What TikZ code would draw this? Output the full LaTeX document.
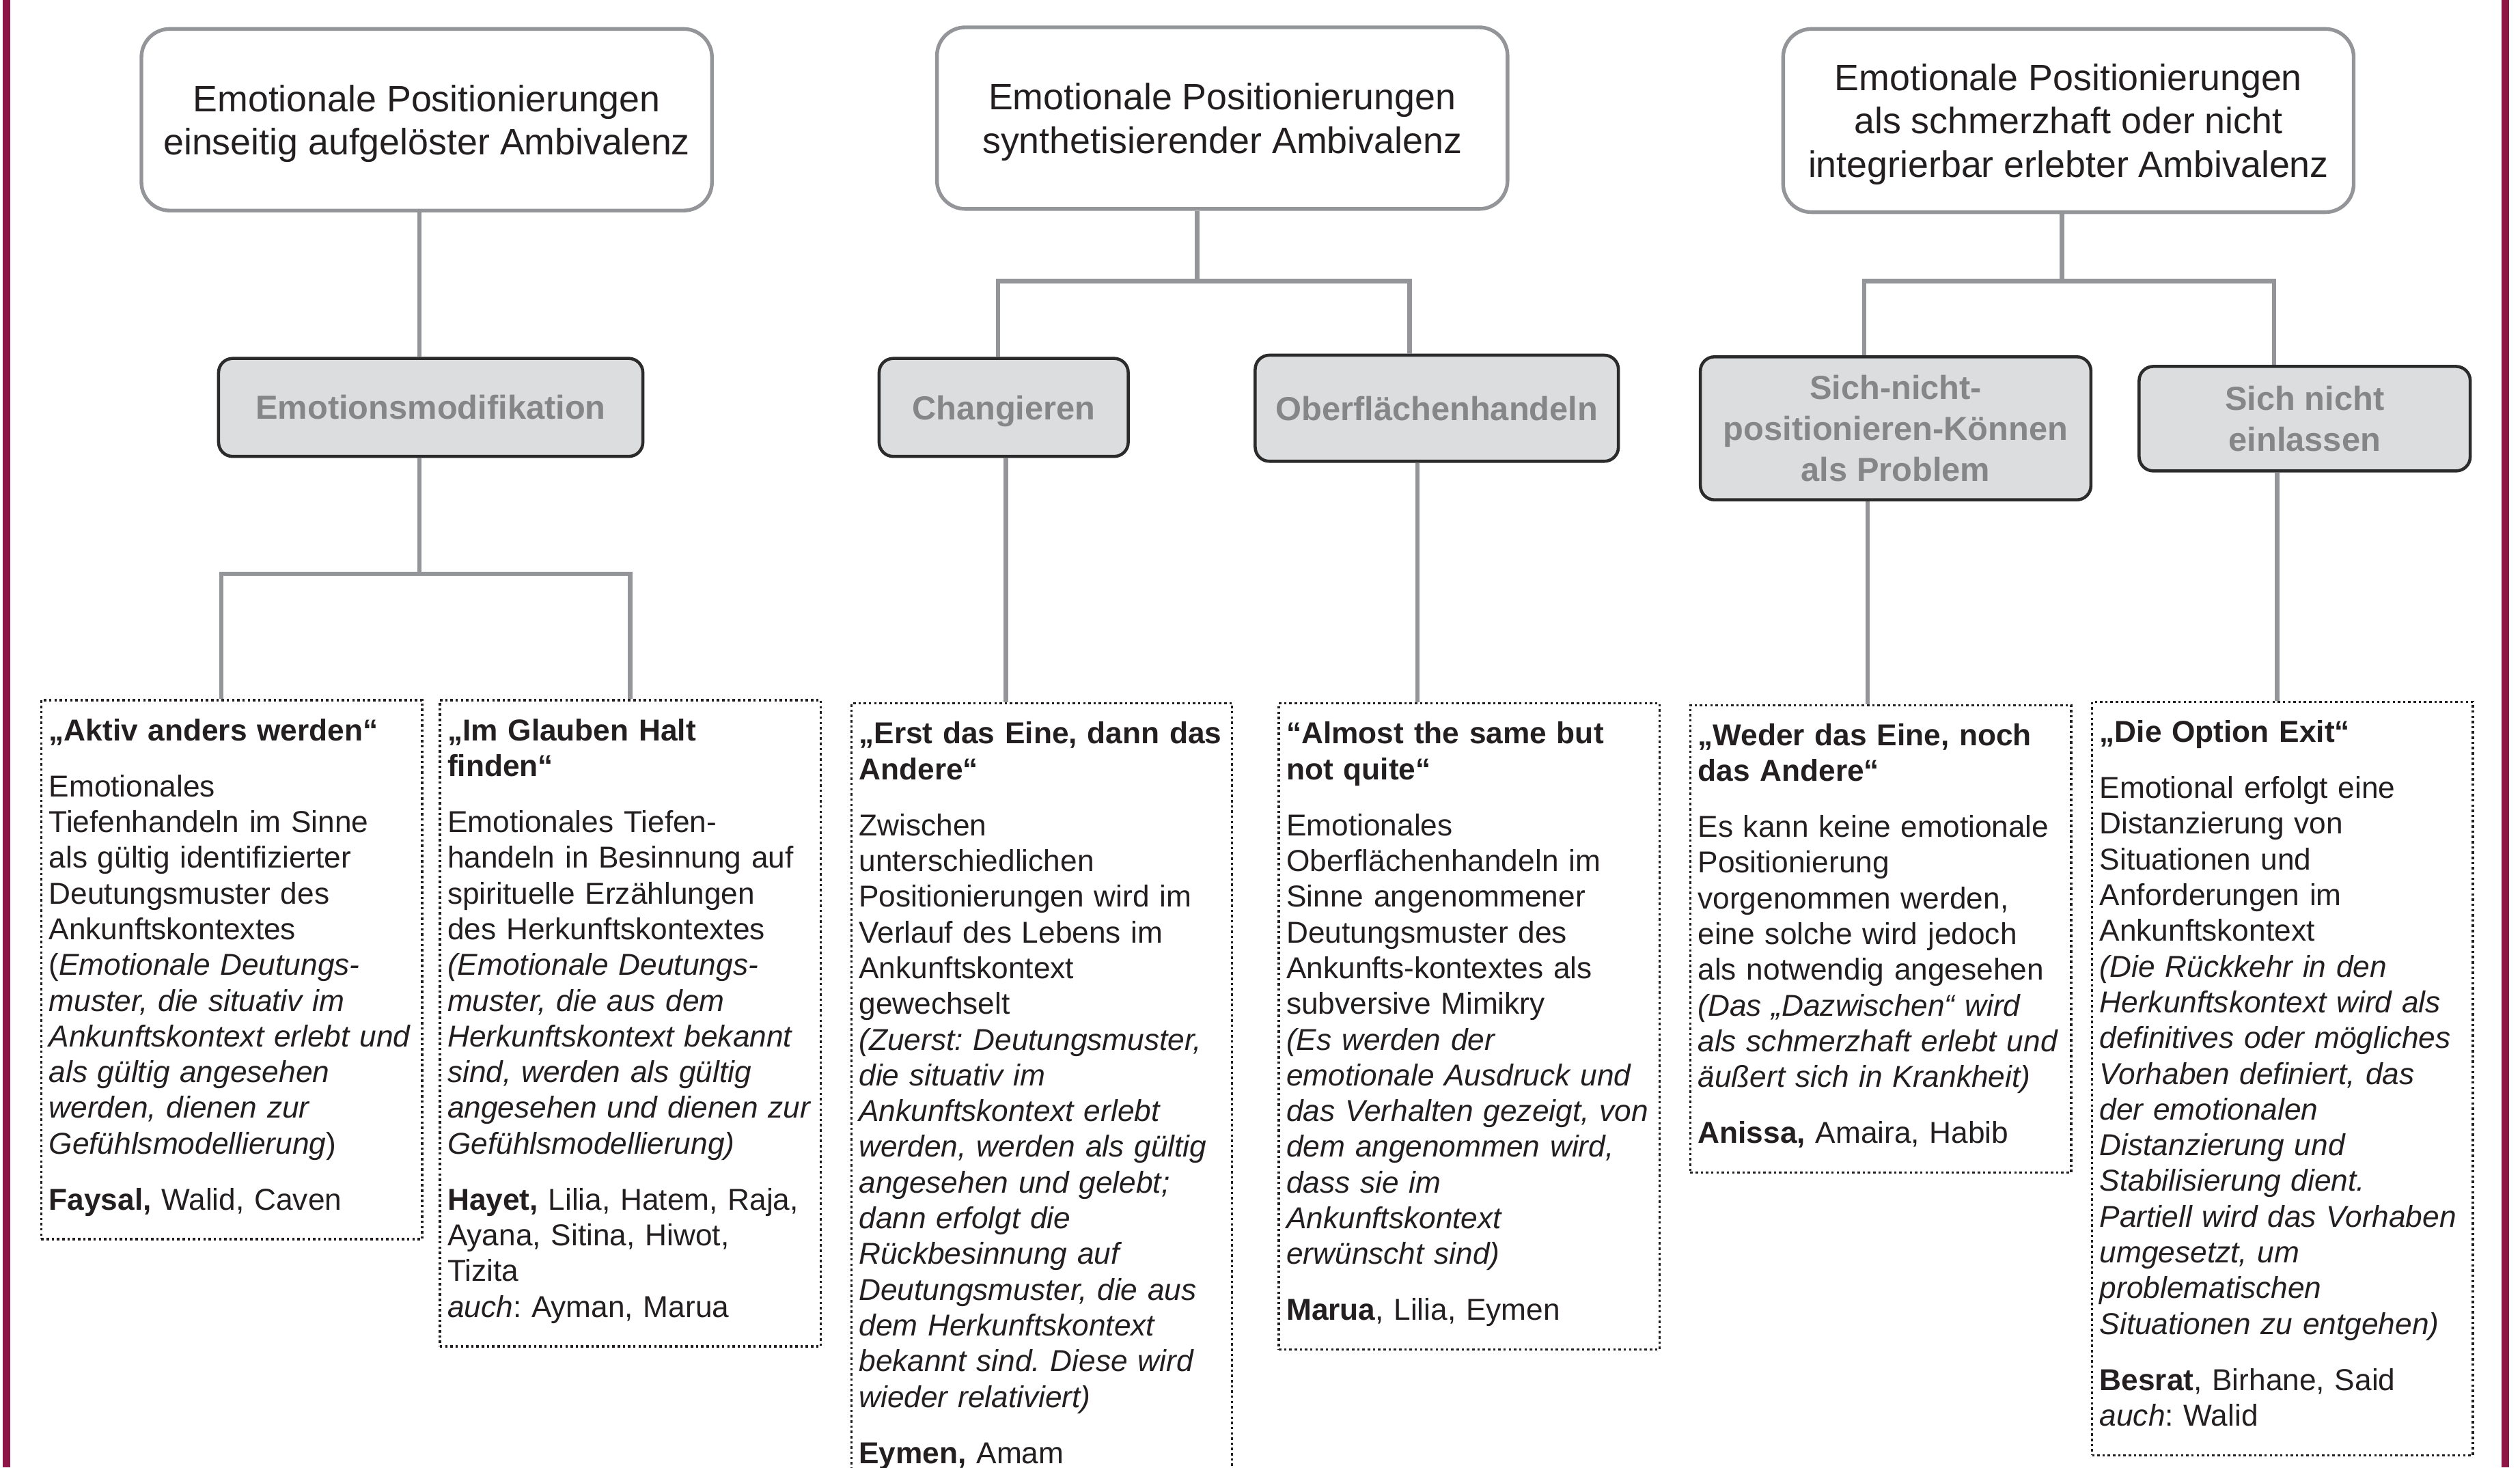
\documentclass[tikz,border=0pt]{standalone}
\usepackage{fontspec}
\setmainfont{Liberation Sans}
\usepackage{xcolor}
\usepackage{tikz}
\definecolor{framered}{HTML}{8E1646}
\definecolor{linegray}{HTML}{939598}
\definecolor{boxfill}{HTML}{DCDDDE}
\definecolor{boxline}{HTML}{2B2B2B}
\definecolor{labelgray}{HTML}{858688}
\definecolor{inkdark}{HTML}{231F20}
\frenchspacing

\begin{document}
\begin{tikzpicture}[
        ambivalence/.style={draw=linegray, line width=1.3pt, rounded corners=10pt, fill=white, text=inkdark, minimum width=7.1cm, minimum height=2.26cm, inner sep=0pt, text depth=0pt, align=center, font=\fontsize{13}{15.3}\selectfont},
        strategy/.style={draw=boxline, line width=1.1pt, rounded corners=5pt, fill=boxfill, text=labelgray, inner sep=0pt, align=center, font=\fontsize{11.8}{14.5}\selectfont\bfseries},
        casebox/.style={draw=inkdark, line width=0.8pt, dash pattern=on 0.85pt off 1pt, anchor=north west, text=inkdark, text width=4.55cm, inner xsep=0.095cm, inner ysep=0.23cm, align=left, font=\fontsize{10.7}{12.65}\selectfont, execute at end node=\strut},
        connector/.style={draw=linegray, line width=1.6pt}
    ]
        \clip (0,0) rectangle (31.36,-18.26);
        \draw[framered, line width=0.094cm] (0.081,0) -- (0.081,-18.26);
        \draw[framered, line width=0.094cm] (31.177,0) -- (31.177,-18.26);

        \node[ambivalence] (top1) at (5.31,-1.49) {Emotionale Positionierungen\\einseitig aufgelöster Ambivalenz};
        \node[ambivalence] (top2) at (15.21,-1.47) {Emotionale Positionierungen\\synthetisierender Ambivalenz};
        \node[ambivalence, minimum height=2.28cm] (top3) at (25.74,-1.50) {Emotionale Positionierungen\\als schmerzhaft oder nicht\\integrierbar erlebter Ambivalenz};

        \node[strategy, minimum width=5.28cm, minimum height=1.22cm] (mod) at (5.36,-5.07) {Emotionsmodifikation};
        \node[strategy, minimum width=3.10cm, minimum height=1.22cm, text depth=0pt] (chg) at (12.49,-5.07) {Changieren};
        \node[strategy, minimum width=4.52cm, minimum height=1.32cm] (obf) at (17.88,-5.08) {Oberflächenhandeln};
        \node[strategy, minimum width=4.86cm, minimum height=1.78cm] (snp) at (23.59,-5.33) {Sich-nicht-\\positionieren-Können\\als Problem};
        \node[strategy, minimum width=4.12cm, minimum height=1.30cm] (sne) at (28.68,-5.21) {Sich nicht\\einlassen};

        \node[casebox] (c1) at (0.50,-8.70) {{\bfseries „Aktiv anders werden“}\\[7.2pt]
            Emotionales\\ Tiefenhandeln im Sinne\\ als gültig identifizierter\\ Deutungsmuster des\\ Ankunftskontextes\\ ({\itshape Emotionale Deutungs-\\ muster, die situativ im\\ Ankunftskontext erlebt und\\ als gültig angesehen\\ werden, dienen zur\\ Gefühlsmodellierung})\\[7.2pt]
            {\bfseries Faysal,} Walid, Caven};
        \node[casebox] (c2) at (5.46,-8.70) {{\bfseries „Im Glauben Halt\\ finden“}\\[7.2pt]
            Emotionales Tiefen-\\ handeln in Besinnung auf\\ spirituelle Erzählungen\\ des Herkunftskontextes\\ {\itshape (Emotionale Deutungs-\\ muster, die aus dem\\ Herkunftskontext bekannt\\ sind, werden als gültig\\ angesehen und dienen zur\\ Gefühlsmodellierung)}\\[7.2pt]
            {\bfseries Hayet,} Lilia, Hatem, Raja,\\ Ayana, Sitina, Hiwot,\\ Tizita\\ {\itshape auch}: Ayman, Marua};
        \node[casebox] (c3) at (10.58,-8.74) {{\bfseries „Erst das Eine, dann das\\ Andere“}\\[7.2pt]
            Zwischen\\ unterschiedlichen\\ Positionierungen wird im\\ Verlauf des Lebens im\\ Ankunftskontext\\ gewechselt\\ {\itshape (Zuerst: Deutungsmuster,\\ die situativ im\\ Ankunftskontext erlebt\\ werden, werden als gültig\\ angesehen und gelebt;\\ dann erfolgt die\\ Rückbesinnung auf\\ Deutungsmuster, die aus\\ dem Herkunftskontext\\ bekannt sind. Diese wird\\ wieder relativiert)}\\[7.2pt]
            {\bfseries Eymen,} Amam};
        \node[casebox] (c4) at (15.90,-8.74) {{\bfseries “Almost the same but\\ not quite“}\\[7.2pt]
            Emotionales\\ Oberflächenhandeln im\\ Sinne angenommener\\ Deutungsmuster des\\ Ankunfts-kontextes als\\ subversive Mimikry\\ {\itshape (Es werden der\\ emotionale Ausdruck und\\ das Verhalten gezeigt, von\\ dem angenommen wird,\\ dass sie im\\ Ankunftskontext\\ erwünscht sind)}\\[7.2pt]
            {\bfseries Marua}, Lilia, Eymen};
        \node[casebox] (c5) at (21.02,-8.76) {{\bfseries „Weder das Eine, noch\\ das Andere“}\\[7.2pt]
            Es kann keine emotionale\\ Positionierung\\ vorgenommen werden,\\ eine solche wird jedoch\\ als notwendig angesehen\\ {\itshape (Das „Dazwischen“ wird\\ als schmerzhaft erlebt und\\ äußert sich in Krankheit)}\\[7.2pt]
            {\bfseries Anissa,} Amaira, Habib};
        \node[casebox] (c6) at (26.02,-8.72) {{\bfseries „Die Option Exit“}\\[7.2pt]
            Emotional erfolgt eine\\ Distanzierung von\\ Situationen und\\ Anforderungen im\\ Ankunftskontext\\ {\itshape (Die Rückkehr in den\\ Herkunftskontext wird als\\ definitives oder mögliches\\ Vorhaben definiert, das\\ der emotionalen\\ Distanzierung und\\ Stabilisierung dient.\\ Partiell wird das Vorhaben\\ umgesetzt, um\\ problematischen\\ Situationen zu entgehen)}\\[7.2pt]
            {\bfseries Besrat}, Birhane, Said\\ {\itshape auch}: Walid};

        % tree lines
        \coordinate (fork1) at (5.22,-7.14);
        \coordinate (fork2) at (14.90,-3.50);
        \coordinate (fork3) at (25.66,-3.50);

        \draw[connector] (top1.south -| fork1) -- (mod.north -| fork1);
        \draw[connector] (mod.south -| fork1) -- (fork1);
        \draw[connector] (fork1) -| ([xshift=-1.3mm]c1.north);
        \draw[connector] (fork1) -| (c2.north);

        \draw[connector] (top2.south -| fork2) -- (fork2);
        \draw[connector] (fork2) -| ([xshift=-0.7mm]chg.north);
        \draw[connector] (fork2) -| ([xshift=-3.4mm]obf.north);
        \draw[connector] ([xshift=0.3mm]chg.south) -- ([xshift=0.3mm]chg.south |- c3.north);
        \draw[connector] ([xshift=-2.4mm]obf.south) -- ([xshift=-2.4mm]obf.south |- c4.north);

        \draw[connector] (top3.south -| fork3) -- (fork3);
        \draw[connector] (fork3) -| ([xshift=-3.9mm]snp.north);
        \draw[connector] (fork3) -| ([xshift=-3.8mm]sne.north);
        \draw[connector] ([xshift=-3.5mm]snp.south) -- ([xshift=-3.5mm]snp.south |- c5.north);
        \draw[connector] ([xshift=-3.4mm]sne.south) -- ([xshift=-3.4mm]sne.south |- c6.north);
    \end{tikzpicture}
\end{document}
